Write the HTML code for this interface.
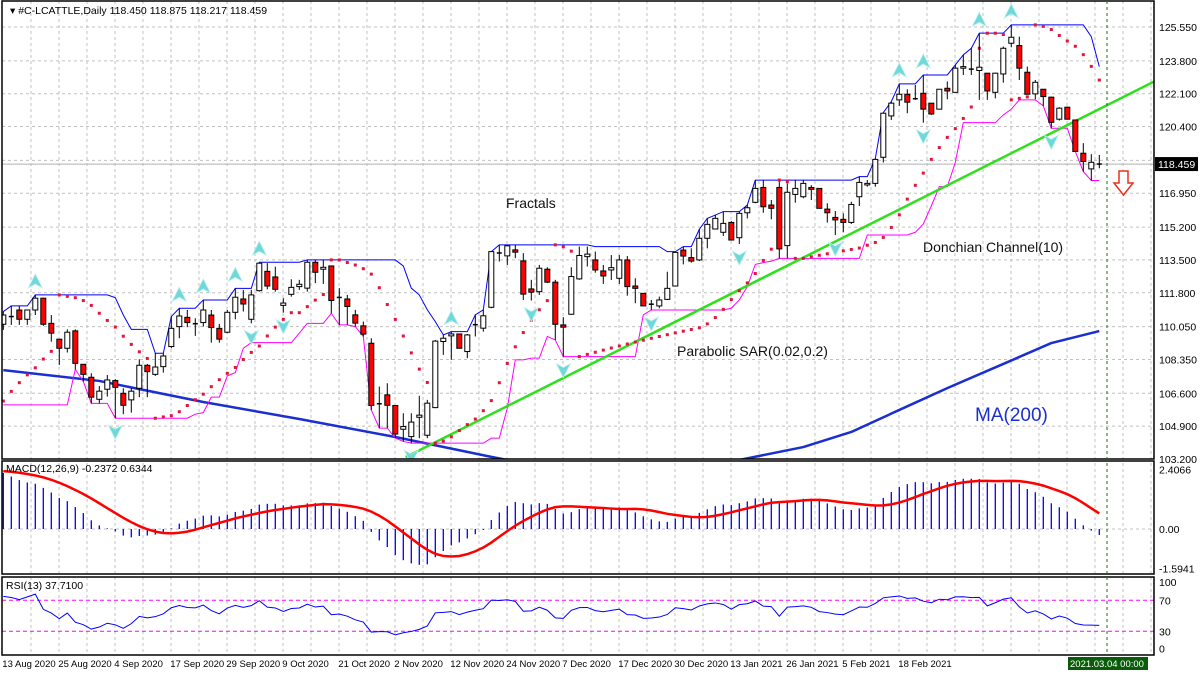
<!DOCTYPE html>
<html><head><meta charset="utf-8"><style>
html,body{margin:0;padding:0;background:#fff;}
svg{display:block;font-family:"Liberation Sans",sans-serif;}
</style></head><body>
<svg id="chart" width="1200" height="675" viewBox="0 0 1200 675" xmlns="http://www.w3.org/2000/svg">
<rect x="0" y="0" width="1200" height="675" fill="#fff"/>
<g id="grid"></g>
<g id="ma"></g>
<g id="don"></g>
<g id="trend"></g>
<g id="sar"></g>
<g id="candles"></g>
<g id="fract"></g>
<g id="macd"></g>
<g id="rsi"></g>
<g id="axes"></g>
<text x="10" y="14" font-size="10.5" fill="#000">▾ #C-LCATTLE,Daily  118.450 118.875 118.217 118.459</text>
<text x="506" y="208" font-size="14" fill="#111">Fractals</text>
<text x="923" y="252" font-size="14" fill="#111">Donchian Channel(10)</text>
<text x="677" y="356" font-size="14" fill="#111">Parabolic SAR(0.02,0.2)</text>
<text x="975" y="421" font-size="19" fill="#1a2fd0">MA(200)</text>
<text x="6" y="472" font-size="10.5" fill="#000">MACD(12,26,9) -0.2372 0.6344</text>
<text x="6" y="589" font-size="10.5" fill="#000">RSI(13) 37.7100</text>
<polygon points="1119,171 1128,171 1128,183 1133,183 1123.5,195 1114,183 1119,183" fill="#fff" stroke="#e8321c" stroke-width="1.5"/>
</svg>
<script>
const O=[110.17,110.55,110.91,110.43,110.91,111.52,110.22,109.40,108.93,109.83,108.10,107.43,106.29,106.81,107.26,106.60,106.26,106.86,108.05,107.58,107.98,109.02,110.05,110.53,110.19,110.26,110.65,109.96,109.76,110.79,111.48,110.43,111.91,112.91,112.62,111.15,111.72,112.12,112.04,113.38,113.02,113.19,111.55,111.48,110.66,110.09,109.19,106.05,106.52,105.97,104.74,104.36,105.36,104.43,105.86,109.28,109.57,109.67,108.76,110.14,109.97,111.05,113.85,113.71,114.02,113.45,112.00,111.86,113.02,112.35,110.14,110.69,112.52,113.67,113.50,112.93,112.98,112.55,113.50,112.15,111.77,111.20,111.12,111.46,112.15,114.01,113.62,113.50,114.62,115.10,114.93,115.44,114.65,115.94,116.48,117.25,116.34,117.25,114.24,116.89,116.77,117.25,117.20,116.13,115.70,115.60,115.44,116.77,117.38,117.46,118.81,120.95,121.78,122.07,121.82,122.12,121.61,121.30,122.38,122.17,123.42,123.35,123.30,123.16,122.17,123.12,124.71,124.59,123.21,122.09,122.33,121.92,120.78,121.40,120.74,119.02,118.21,118.45];
const H=[110.83,111.12,111.12,110.91,111.69,111.55,110.65,109.40,109.91,109.91,108.10,107.64,106.98,107.55,107.33,106.86,106.86,108.36,108.12,108.67,108.67,110.57,111.00,110.91,110.48,111.43,110.91,110.19,110.91,112.03,111.95,111.95,113.38,113.33,113.15,111.52,112.50,112.47,113.50,113.50,113.50,113.19,112.04,111.69,110.92,110.31,109.45,106.95,107.12,105.97,105.57,105.57,106.47,106.26,109.36,109.62,109.79,109.67,109.67,110.66,110.92,113.93,114.28,114.28,114.28,113.85,112.47,113.24,113.12,112.47,110.54,113.12,114.19,114.19,113.93,113.24,113.75,113.75,113.70,112.55,111.77,111.43,111.60,112.89,113.93,114.19,114.10,115.08,115.65,115.82,116.00,115.51,116.00,116.34,117.63,117.63,116.60,117.55,117.46,117.63,117.63,117.37,117.20,116.43,116.03,115.91,116.51,117.81,117.63,118.75,121.12,121.69,122.61,122.33,122.55,123.07,121.61,122.33,122.73,123.59,124.11,124.45,125.23,123.16,123.19,124.54,125.66,125.05,123.50,122.81,122.33,121.95,121.40,121.43,120.74,119.54,118.97,118.93];
const L=[109.88,110.14,110.14,110.14,110.65,110.09,109.27,108.07,108.71,107.84,107.21,106.08,106.08,106.43,105.31,105.52,105.60,106.40,106.40,107.50,107.67,108.93,109.45,110.02,109.57,110.05,109.22,109.22,109.71,110.43,110.83,110.22,111.86,111.98,111.86,110.77,111.60,111.95,111.86,112.30,112.26,110.74,110.14,110.14,110.05,109.54,105.74,104.80,104.80,104.28,104.11,104.02,104.28,104.28,105.83,108.59,108.33,108.93,108.42,109.54,109.79,111.00,113.42,113.24,113.59,111.43,111.40,111.69,112.30,109.36,108.50,110.66,112.47,113.16,112.84,112.26,112.46,112.26,111.65,111.26,111.12,110.91,111.00,111.43,112.12,113.27,113.36,113.44,114.10,115.08,114.74,114.50,114.32,115.65,116.43,115.94,115.60,113.58,113.58,116.46,116.69,116.60,116.17,115.43,114.79,114.93,115.36,116.29,117.29,117.29,118.54,120.74,121.47,121.09,121.78,120.60,121.00,121.30,121.81,122.16,123.07,123.07,121.78,121.78,121.86,122.67,124.50,122.81,122.07,121.81,121.47,120.31,120.71,120.78,119.11,118.07,117.61,118.24];
const C=[110.65,110.57,110.43,110.91,111.52,110.17,109.71,108.93,109.76,108.15,107.58,106.40,106.71,107.29,106.91,105.98,106.71,108.05,107.72,107.96,108.53,109.96,110.60,110.26,110.20,110.91,110.00,109.40,110.79,111.57,111.22,111.69,113.33,112.15,111.98,111.27,112.08,112.24,113.38,112.86,113.12,111.40,111.56,111.09,110.23,109.66,105.97,106.06,105.98,104.49,104.88,105.11,105.47,106.09,109.30,109.45,109.67,108.93,109.62,110.15,110.61,113.93,113.86,114.23,113.90,111.73,111.83,113.07,112.35,110.17,110.02,112.64,113.73,113.80,112.98,112.67,113.10,113.50,112.12,112.03,111.12,111.21,111.43,112.03,113.89,113.70,113.44,114.62,115.34,115.65,115.39,114.53,115.91,116.20,117.20,116.25,116.17,114.07,117.00,117.20,117.46,117.15,116.17,115.94,115.57,115.44,116.37,117.51,117.46,118.70,121.09,121.61,122.07,121.66,121.84,121.30,121.05,122.33,122.24,123.42,123.50,123.37,123.47,122.24,123.16,124.45,125.02,123.42,122.07,122.69,121.95,120.62,121.35,120.78,119.11,118.59,118.55,118.46];
const maBars=[0,12,25,37,49,61,75,92,100,106,112,118,125,131,137];
const maVals=[107.80,107.24,106.15,105.27,104.34,103.31,102.2,103.15,103.82,104.60,105.74,106.87,108.12,109.20,109.82];
const priceTicks=[125.550,123.800,122.100,120.400,118.650,116.950,115.200,113.500,111.800,110.050,108.350,106.600,104.900,103.200];
const dateLabels=["13 Aug 2020","25 Aug 2020","4 Sep 2020","17 Sep 2020","29 Sep 2020","9 Oct 2020","21 Oct 2020","2 Nov 2020","12 Nov 2020","24 Nov 2020","7 Dec 2020","17 Dec 2020","30 Dec 2020","13 Jan 2021","26 Jan 2021","5 Feb 2021","18 Feb 2021"];
const lastPrice=118.459;
const trendStart=[50.3,103.3], trendEnd=[144.3,122.82];

const NS="http://www.w3.org/2000/svg";
const X=i=>3.3+8*i;
const YP=p=>27+(125.55-p)*19.33;
const YM=v=>529-v*24.75;
const YR=v=>654.5-v*0.775;
function mk(tag,attrs,parent){const e=document.createElementNS(NS,tag);for(const k in attrs)e.setAttribute(k,attrs[k]);parent.appendChild(e);return e;}
const g=id=>document.getElementById(id);
const svg=g('chart');
const defs=mk('defs',{},svg);
const cp=mk('clipPath',{id:'mainclip'},defs);mk('rect',{x:2,y:1,width:1152,height:458},cp);
const cp2=mk('clipPath',{id:'macdclip'},defs);mk('rect',{x:2,y:462,width:1152,height:112},cp2);
['ma','don','trend','sar','candles','fract'].forEach(id=>g(id).setAttribute('clip-path','url(#mainclip)'));
g('macd').setAttribute('clip-path','url(#macdclip)');

const gr=g('grid');
const dash={stroke:'#c0c0c0','stroke-width':1,'stroke-dasharray':'3,3'};
for(let x=31;x<1154;x+=28){
 const l=mk('line',Object.assign({x1:x,y1:1,x2:x,y2:655},dash),gr);
 
 
}
priceTicks.forEach(p=>{const l=mk('line',Object.assign({x1:2,y1:YP(p),x2:1154,y2:YP(p)},dash),gr);
 
 });
[0].forEach(v=>{const l=mk('line',Object.assign({x1:2,y1:YM(v),x2:1154,y2:YM(v)},dash),gr);
 
 });
const pl=mk('line',{x1:2,y1:YP(lastPrice),x2:1154,y2:YP(lastPrice),stroke:'#b0b0b0','stroke-width':1},gr);


[[70],[30]].forEach(([v])=>{const l=mk('line',{x1:2,y1:YR(v),x2:1154,y2:YR(v),stroke:'#ff00ff','stroke-width':1,'stroke-dasharray':'4,3'},gr);
 
 });

const maPath=mk('polyline',{points:maBars.map((b,k)=>X(b)+','+YP(maVals[k])).join(' '),fill:'none',stroke:'#1a2fd0','stroke-width':2.5,'stroke-linejoin':'round'},g('ma'));



const N=C.length, up=[], lo=[];
for(let i=0;i<N;i++){let h=-1e9,l=1e9;for(let j=Math.max(0,i-9);j<=i;j++){h=Math.max(h,H[j]);l=Math.min(l,L[j]);}
 if(i<9){h=Math.max(h,110.8);l=Math.min(l,106.0);} up.push(h);lo.push(l);}
const du=mk('polyline',{points:up.map((v,i)=>X(i)+','+YP(v)).join(' '),fill:'none',stroke:'#0000ff','stroke-width':1},g('don'));


const dl=mk('polyline',{points:lo.map((v,i)=>X(i)+','+YP(v)).join(' '),fill:'none',stroke:'#ff00ff','stroke-width':1},g('don'));



const tl=mk('line',{x1:X(trendStart[0]),y1:YP(trendStart[1]),x2:X(trendEnd[0]),y2:YP(trendEnd[1]),stroke:'#2ee01c','stroke-width':2.5},g('trend'));



let sar=106.2,isUp=true,ep=111.2,af=0.1;const sars=[];
for(let i=0;i<N;i++){
 if(i>0){sar=sar+af*(ep-sar);
  if(isUp){sar=Math.min(sar,L[i-1],i>1?L[i-2]:L[i-1]);
   if(L[i]<sar){isUp=false;sar=ep;ep=L[i];af=0.02;}
   else if(H[i]>ep){ep=H[i];af=Math.min(af+0.02,0.2);}}
  else{sar=Math.max(sar,H[i-1],i>1?H[i-2]:H[i-1]);
   if(H[i]>sar){isUp=true;sar=ep;ep=H[i];af=0.02;}
   else if(L[i]<ep){ep=L[i];af=Math.min(af+0.02,0.2);}}}
 sars.push(sar);}
sars.forEach((s,i)=>{const r=mk('rect',{x:X(i)-1.5,y:YP(s)-1.5,width:3,height:3,fill:'#e0143c'},g('sar'));
 
 });

for(let i=0;i<N;i++){
 const cg=mk('g',{},g('candles'));
 
 
 mk('line',{x1:X(i),y1:YP(H[i]),x2:X(i),y2:YP(L[i]),stroke:'#000','stroke-width':1},cg);
 const t=YP(Math.max(O[i],C[i])),b=YP(Math.min(O[i],C[i]));
 if(b-t<1.2){mk('line',{x1:X(i)-2.5,y1:t,x2:X(i)+2.5,y2:t,stroke:'#000','stroke-width':1.5},cg);}
 else mk('rect',{x:X(i)-2.5,y:t,width:5,height:b-t,fill:C[i]>=O[i]?'#fff':'#f00',stroke:'#000','stroke-width':1},cg);
}

for(let i=2;i<N-2;i++){
 if(H[i]>H[i-1]&&H[i]>H[i-2]&&H[i]>H[i+1]&&H[i]>H[i+2]){
  const y=YP(H[i])-7,x=X(i);
  const a=mk('polygon',{points:`${x},${y-14} ${x+7},${y} ${x},${y-4} ${x-7},${y}`,fill:'#6fd8d8',stroke:'#b8eeee','stroke-width':0.8},g('fract'));
  
  }
 if(L[i]<L[i-1]&&L[i]<L[i-2]&&L[i]<L[i+1]&&L[i]<L[i+2]){
  const y=YP(L[i])+7,x=X(i);
  const a=mk('polygon',{points:`${x},${y+14} ${x+7},${y} ${x},${y+4} ${x-7},${y}`,fill:'#6fd8d8',stroke:'#b8eeee','stroke-width':0.8},g('fract'));
  
  }
}

let e12=C[0]-0.5,e26=C[0]-2.9;const main=[],sig=[];const buf=[2.35,2.35,2.35,2.35,2.35,2.35,2.35,2.35];
for(let i=0;i<N;i++){e12+= (2/13)*(C[i]-e12);e26+=(2/27)*(C[i]-e26);const m=e12-e26;main.push(m);buf.push(m);if(buf.length>9)buf.shift();sig.push(buf.reduce((a,b)=>a+b,0)/buf.length);}
main.forEach((m,i)=>{const l=mk('line',{x1:X(i),y1:YM(0),x2:X(i),y2:YM(m),stroke:'#0000ff','stroke-width':1.3},g('macd'));
 
 });
const sl=mk('polyline',{points:sig.map((v,i)=>X(i)+','+YM(v)).join(' '),fill:'none',stroke:'#f00','stroke-width':2.5},g('macd'));



let ag=0.27,al=0.09;const rsi=[];
for(let i=0;i<N;i++){const d=i?C[i]-C[i-1]:0;ag=(ag*12+Math.max(d,0))/13;al=(al*12+Math.max(-d,0))/13;rsi.push(100-100/(1+ag/al));}
const rl=mk('polyline',{points:rsi.map((v,i)=>X(i)+','+YR(v)).join(' '),fill:'none',stroke:'#0000ff','stroke-width':1},g('rsi'));



const ax=g('axes');
[[2,1,1152,458],[2,461,1152,113],[2,577,1152,78]].forEach(r=>{const f=mk('rect',{x:r[0],y:r[1],width:r[2],height:r[3],fill:'none',stroke:'#000','stroke-width':1.5},ax);
 
 });
const vl=mk('line',{x1:1107,y1:1,x2:1107,y2:655,stroke:'#1a6e1a','stroke-width':1,'stroke-dasharray':'3,3'},ax);


priceTicks.forEach(p=>{const t=mk('text',{x:1159,y:YP(p)+4,'font-size':10.5,fill:'#000'},ax);t.textContent=p.toFixed(3);
 
 });
const pb=mk('rect',{x:1155,y:YP(lastPrice)-7,width:43,height:14,fill:'#000'},ax);


const pt=mk('text',{x:1158,y:YP(lastPrice)+4,'font-size':10.5,fill:'#fff'},ax);pt.textContent=lastPrice.toFixed(3);


[[2.4066,'2.4066'],[0,'0.00'],[-1.5941,'-1.5941']].forEach(([v,s])=>{const t=mk('text',{x:1159,y:YM(v)+4,'font-size':10.5,fill:'#000'},ax);t.textContent=s;
 
 });
[[100,'100'],[70,'70'],[30,'30'],[0,'0']].forEach(([v,s])=>{const y=v==100?YR(v)+9:v==0?YR(v)-2:YR(v)+4;const t=mk('text',{x:1159,y:y,'font-size':10.5,fill:'#000'},ax);t.textContent=s;
 
 });
dateLabels.forEach((s,k)=>{const t=mk('text',{x:X(7*k)-1,y:667,'font-size':9.5,fill:'#000'},ax);t.textContent=s;
 
 });
const db=mk('rect',{x:1068,y:657,width:80,height:13,fill:'#0a5c0a'},ax);


const dt=mk('text',{x:1070,y:667,'font-size':9.5,fill:'#fff'},ax);dt.textContent='2021.03.04 00:00';


</script>
</body></html>
